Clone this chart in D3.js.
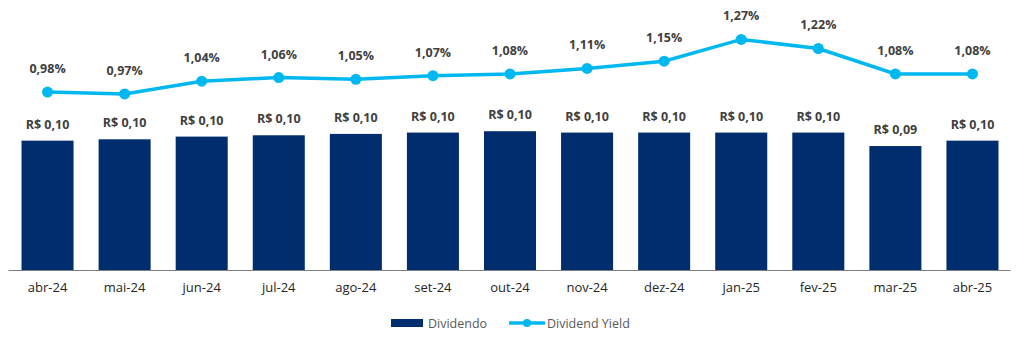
<!DOCTYPE html>
<html lang="pt">
<head>
<meta charset="UTF-8">
<title>Dividendo e Dividend Yield</title>
<script src="https://d3js.org/d3.v7.min.js"></script>
<style>
  body { margin: 0; background: #fff; }
  text { font-family: "Open Sans", "Noto Sans", sans-serif; }
</style>
</head>
<body>
<script>
    // data
    var meses = ["abr-24", "mai-24", "jun-24", "jul-24", "ago-24", "set-24", "out-24",
                 "nov-24", "dez-24", "jan-25", "fev-25", "mar-25", "abr-25"];
    var dividendo = [0.096, 0.097, 0.099, 0.100, 0.101, 0.102, 0.103,
                     0.102, 0.102, 0.102, 0.102, 0.092, 0.096];
    var dy = [0.98, 0.97, 1.04, 1.06, 1.05, 1.07, 1.08, 1.11, 1.15, 1.27, 1.22, 1.08, 1.08];

    var width = 1024, height = 343;
    var plotTop = 14, base = 270;

    var svg = d3.select("body").append("svg")
        .attr("width", width)
        .attr("height", height);

    var x = d3.scaleBand()
        .domain(meses)
        .range([9, 1011])
        .paddingInner(0.325)
        .paddingOuter(0.1625);

    var y = d3.scaleLinear().domain([0, 0.19]).range([base, plotTop]);
    var y2 = d3.scaleLinear().domain([0, 1.41]).range([base, plotTop]);

    var fmt = function(v, d) { return v.toFixed(d).replace(".", ","); };

    // bars
    svg.selectAll("rect.bar")
        .data(dividendo)
        .enter()
        .append("rect")
        .attr("class", "bar")
        .attr("x", function(d, i) { return x(meses[i]); })
        .attr("y", function(d) { return y(d); })
        .attr("width", x.bandwidth())
        .attr("height", function(d) { return base - y(d); })
        .style("fill", "#002D6E");

    // x axis
    var xAxis = svg.append("g")
        .attr("transform", "translate(0," + base + ")")
        .call(d3.axisBottom(x).tickSize(0).tickPadding(13));
    xAxis.select(".domain").attr("stroke", "#7f7f7f").attr("d", "M8.5,0.5H1010.5");
    xAxis.selectAll("text")
        .style("font-size", "13px")
        .style("fill", "#262626");

    // bar labels
    svg.selectAll("text.barlab")
        .data(dividendo)
        .enter()
        .append("text")
        .attr("class", "barlab")
        .attr("x", function(d, i) { return x(meses[i]) + x.bandwidth() / 2; })
        .attr("y", function(d) { return y(d) - 12; })
        .attr("text-anchor", "middle")
        .style("font-size", "12.5px")
        .style("font-weight", "bold")
        .style("fill", "#404040")
        .text(function(d) { return "R$ " + fmt(d, 2); });

    // dividend yield line
    var line = d3.line()
        .x(function(d, i) { return x(meses[i]) + x.bandwidth() / 2; })
        .y(function(d) { return y2(d); });

    svg.append("path")
        .datum(dy)
        .attr("d", line)
        .attr("fill", "none")
        .attr("stroke", "#00B8F0")
        .attr("stroke-width", 3.5);

    svg.selectAll("circle.pt")
        .data(dy)
        .enter()
        .append("circle")
        .attr("class", "pt")
        .attr("cx", function(d, i) { return x(meses[i]) + x.bandwidth() / 2; })
        .attr("cy", function(d) { return y2(d); })
        .attr("r", 5.5)
        .style("fill", "#00B8F0");

    svg.selectAll("text.dylab")
        .data(dy)
        .enter()
        .append("text")
        .attr("class", "dylab")
        .attr("x", function(d, i) { return x(meses[i]) + x.bandwidth() / 2; })
        .attr("y", function(d) { return y2(d) - 19; })
        .attr("text-anchor", "middle")
        .style("font-size", "12.5px")
        .style("font-weight", "bold")
        .style("fill", "#404040")
        .text(function(d) { return fmt(d, 2) + "%"; });

    // legend
    var legend = svg.append("g");
    legend.append("rect")
        .attr("x", 391).attr("y", 319)
        .attr("width", 32).attr("height", 8)
        .style("fill", "#002D6E");
    legend.append("text")
        .attr("x", 428).attr("y", 328)
        .style("font-size", "12.5px")
        .style("fill", "#595959")
        .text("Dividendo");
    legend.append("line")
        .attr("x1", 509).attr("x2", 545)
        .attr("y1", 323).attr("y2", 323)
        .attr("stroke", "#00B8F0").attr("stroke-width", 3.5);
    legend.append("circle")
        .attr("cx", 527).attr("cy", 323).attr("r", 4)
        .style("fill", "#00B8F0");
    legend.append("text")
        .attr("x", 547).attr("y", 328)
        .style("font-size", "12.5px")
        .style("fill", "#595959")
        .text("Dividend Yield");
</script>
</body>
</html>
